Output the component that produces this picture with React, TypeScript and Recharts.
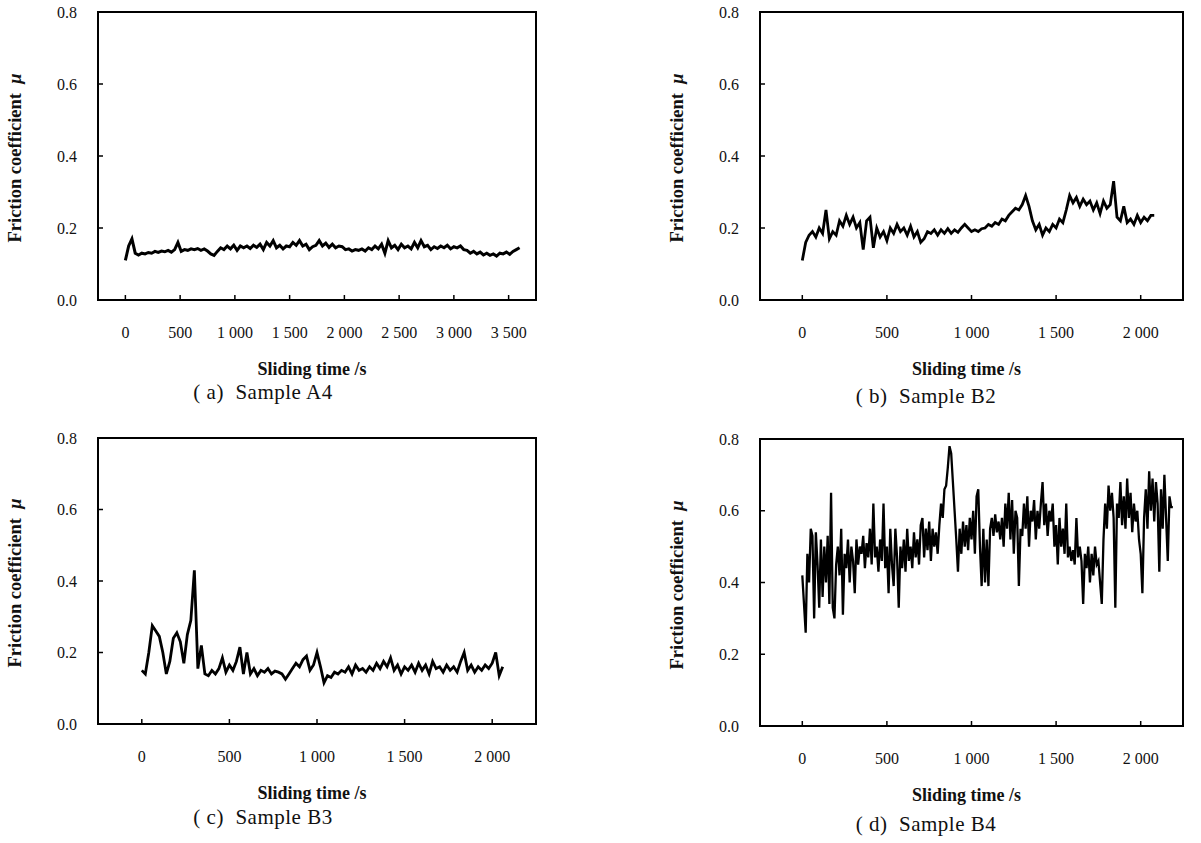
import React from 'react'
import { LineChart, Line, XAxis, YAxis, ReferenceArea } from 'recharts'

// Friction coefficient traces.
// Each trace is sampled at a fixed time step (s).
const TIME_STEP_A4 = 30
const MU_A4 = [
  0.11, 0.15, 0.17, 0.13, 0.125, 0.13, 0.128, 0.132, 0.13, 0.135, 0.132, 0.136, 0.134, 0.138, 0.133, 0.14,
  0.16, 0.135, 0.14, 0.138, 0.142, 0.14, 0.143, 0.138, 0.142, 0.136, 0.128, 0.124, 0.135, 0.145, 0.14, 0.15,
  0.142, 0.152, 0.138, 0.15, 0.145, 0.15, 0.143, 0.152, 0.146, 0.155, 0.14, 0.16, 0.15, 0.165, 0.145, 0.152,
  0.142, 0.15, 0.148, 0.16, 0.152, 0.165, 0.15, 0.155, 0.14, 0.148, 0.152, 0.165, 0.15, 0.158, 0.146, 0.155,
  0.145, 0.15, 0.148, 0.14, 0.142, 0.136, 0.14, 0.138, 0.142, 0.136, 0.145, 0.14, 0.15, 0.142, 0.155, 0.13,
  0.165, 0.145, 0.152, 0.14, 0.155, 0.145, 0.15, 0.142, 0.16, 0.145, 0.165, 0.148, 0.152, 0.14, 0.148, 0.143,
  0.15, 0.145, 0.152, 0.142, 0.148, 0.145, 0.15, 0.14, 0.138, 0.13, 0.135, 0.128, 0.133, 0.125, 0.13, 0.124,
  0.128, 0.122, 0.13, 0.128, 0.133, 0.127, 0.135, 0.14, 0.145,
]

const TIME_STEP_B2 = 20
const MU_B2 = [
  0.11, 0.16, 0.18, 0.19, 0.175, 0.2, 0.185, 0.25, 0.17, 0.19, 0.18, 0.22, 0.205, 0.235, 0.21, 0.23,
  0.2, 0.215, 0.14, 0.22, 0.23, 0.145, 0.2, 0.175, 0.19, 0.165, 0.2, 0.185, 0.21, 0.19, 0.2, 0.18,
  0.205, 0.175, 0.19, 0.16, 0.17, 0.19, 0.185, 0.195, 0.18, 0.195, 0.185, 0.198, 0.185, 0.195, 0.188, 0.2,
  0.21, 0.2, 0.19, 0.195, 0.19, 0.198, 0.2, 0.21, 0.205, 0.215, 0.21, 0.225, 0.22, 0.235, 0.245, 0.255,
  0.25, 0.265, 0.29, 0.26, 0.22, 0.195, 0.21, 0.18, 0.2, 0.19, 0.21, 0.2, 0.225, 0.215, 0.25, 0.29,
  0.27, 0.285, 0.26, 0.28, 0.265, 0.275, 0.25, 0.27, 0.24, 0.275, 0.255, 0.265, 0.33, 0.23, 0.22, 0.26,
  0.215, 0.225, 0.21, 0.235, 0.215, 0.23, 0.22, 0.235, 0.235,
]

const TIME_STEP_B3 = 20
const MU_B3 = [
  0.15, 0.14, 0.2, 0.275, 0.26, 0.245, 0.2, 0.14, 0.175, 0.24, 0.255, 0.23, 0.17, 0.25, 0.29, 0.43,
  0.155, 0.22, 0.14, 0.135, 0.15, 0.14, 0.155, 0.185, 0.145, 0.165, 0.15, 0.175, 0.215, 0.14, 0.2, 0.14,
  0.155, 0.135, 0.15, 0.145, 0.155, 0.14, 0.148, 0.145, 0.14, 0.125, 0.14, 0.155, 0.17, 0.16, 0.18, 0.19,
  0.15, 0.165, 0.2, 0.16, 0.115, 0.135, 0.13, 0.145, 0.14, 0.15, 0.145, 0.16, 0.14, 0.165, 0.15, 0.155,
  0.145, 0.16, 0.15, 0.17, 0.155, 0.175, 0.16, 0.185, 0.15, 0.165, 0.14, 0.16, 0.15, 0.165, 0.145, 0.17,
  0.15, 0.165, 0.14, 0.175, 0.155, 0.16, 0.145, 0.165, 0.15, 0.16, 0.145, 0.175, 0.2, 0.15, 0.165, 0.145,
  0.16, 0.15, 0.165, 0.155, 0.17, 0.2, 0.135, 0.16,
]

// B4 is very noisy, so it is read at a finer step (one row per 100 s)
const TIME_STEP_B4 = 10
const MU_B4 = [
  0.42, 0.34, 0.26, 0.48, 0.40, 0.55, 0.53, 0.30, 0.54, 0.45,
  0.33, 0.52, 0.36, 0.50, 0.40, 0.53, 0.34, 0.65, 0.33, 0.30,
  0.45, 0.50, 0.42, 0.55, 0.31, 0.48, 0.44, 0.52, 0.40, 0.50,
  0.46, 0.37, 0.52, 0.45, 0.50, 0.48, 0.53, 0.44, 0.51, 0.47,
  0.55, 0.45, 0.62, 0.47, 0.50, 0.43, 0.52, 0.46, 0.62, 0.44,
  0.50, 0.37, 0.55, 0.45, 0.39, 0.55, 0.47, 0.33, 0.50, 0.44,
  0.52, 0.43, 0.55, 0.46, 0.50, 0.44, 0.54, 0.47, 0.52, 0.45,
  0.56, 0.58, 0.47, 0.55, 0.49, 0.57, 0.46, 0.55, 0.50, 0.54,
  0.48, 0.56, 0.62, 0.58, 0.66, 0.67, 0.72, 0.78, 0.76, 0.68,
  0.60, 0.52, 0.43, 0.55, 0.48, 0.57, 0.50, 0.56, 0.49, 0.58,
  0.52, 0.60, 0.48, 0.64, 0.66, 0.50, 0.39, 0.55, 0.40, 0.52,
  0.39, 0.55, 0.58, 0.53, 0.59, 0.54, 0.57, 0.52, 0.58, 0.50,
  0.62, 0.55, 0.65, 0.52, 0.63, 0.48, 0.60, 0.58, 0.39, 0.55,
  0.53, 0.62, 0.55, 0.64, 0.50, 0.60, 0.57, 0.63, 0.52, 0.60,
  0.55, 0.62, 0.68, 0.56, 0.62, 0.53, 0.60, 0.57, 0.62, 0.50,
  0.56, 0.45, 0.58, 0.50, 0.55, 0.48, 0.62, 0.47, 0.50, 0.46,
  0.49, 0.45, 0.58, 0.47, 0.50, 0.46, 0.34, 0.48, 0.44, 0.50,
  0.40, 0.48, 0.42, 0.50, 0.45, 0.46, 0.40, 0.34, 0.52, 0.62,
  0.55, 0.67, 0.60, 0.65, 0.58, 0.33, 0.62, 0.58, 0.68, 0.56,
  0.64, 0.55, 0.69, 0.58, 0.65, 0.54, 0.62, 0.57, 0.60, 0.52,
  0.48, 0.37, 0.58, 0.66, 0.55, 0.71, 0.60, 0.69, 0.57, 0.68,
  0.62, 0.43, 0.66, 0.55, 0.70, 0.58, 0.46, 0.64, 0.61, 0.61,
]

const X_TICKS_LONG = [0, 500, 1000, 1500, 2000, 2500, 3000, 3500]
const X_TICKS_SHORT = [0, 500, 1000, 1500, 2000]
const Y_TICKS = [0, 0.2, 0.4, 0.6, 0.8]

const SERIF = '"Liberation Serif", "Times New Roman", serif'
const X_AXIS_H = 40
const Y_AXIS_W = 50

type Box = { l: number; r: number; t: number; b: number }

interface PanelDef {
  id: string
  caption: string
  step: number
  values: number[]
  xMax: number
  xTicks: number[]
  left: number
  top: number
  width: number
  height: number
  box: Box
  strokeWidth: number
  captionX: number
  captionDy: number
}

const PANELS: PanelDef[] = [
  { id: 'a', caption: '( a)  Sample A4', step: TIME_STEP_A4, values: MU_A4, xMax: 3750, xTicks: X_TICKS_LONG,
    left: 0, top: 0, width: 560, height: 420, box: { l: 98, r: 536, t: 12, b: 300 },
    strokeWidth: 3, captionX: 263, captionDy: 92 },
  { id: 'b', caption: '( b)  Sample B2', step: TIME_STEP_B2, values: MU_B2, xMax: 2250, xTicks: X_TICKS_SHORT,
    left: 600, top: 0, width: 601, height: 420, box: { l: 160, r: 583, t: 12, b: 300 },
    strokeWidth: 2.8, captionX: 326, captionDy: 96 },
  { id: 'c', caption: '( c)  Sample B3', step: TIME_STEP_B3, values: MU_B3, xMax: 2250, xTicks: X_TICKS_SHORT,
    left: 0, top: 420, width: 560, height: 423, box: { l: 98, r: 536, t: 18, b: 304 },
    strokeWidth: 2.8, captionX: 263, captionDy: 93 },
  { id: 'd', caption: '( d)  Sample B4', step: TIME_STEP_B4, values: MU_B4, xMax: 2250, xTicks: X_TICKS_SHORT,
    left: 600, top: 420, width: 601, height: 423, box: { l: 160, r: 583, t: 19, b: 306 },
    strokeWidth: 2.3, captionX: 326, captionDy: 98 },
]

// 1000 -> "1 000", the way the figure groups thousands
function fmtTime(v: number): string {
  if (v < 1000) return String(v)
  return `${Math.floor(v / 1000)} ${String(v % 1000).padStart(3, '0')}`
}

// ticks point into the plot, labels sit well away from the axis
function renderXTick(props: any) {
  const { x, y, payload } = props
  return (
    <g key={`xt-${payload.value}`}>
      <line x1={x} x2={x} y1={y} y2={y - 5} stroke="#000" strokeWidth={1.5} />
      <text x={x} y={y + 38} textAnchor="middle" fontFamily={SERIF} fontSize={16} fill="#111">
        {fmtTime(payload.value)}
      </text>
    </g>
  )
}

function renderYTick(props: any) {
  const { x, y, payload } = props
  return (
    <g key={`yt-${payload.value}`}>
      <line x1={x} x2={x + 5} y1={y} y2={y} stroke="#000" strokeWidth={1.5} />
      <text x={x - 21} y={y + 5.5} textAnchor="end" fontFamily={SERIF} fontSize={16} fill="#111">
        {Number(payload.value).toFixed(1)}
      </text>
    </g>
  )
}

function FrictionPanel({ p }: { p: PanelDef }) {
  const rows = p.values.map((mu, i) => ({ t: i * p.step, mu }))
  const { box } = p
  const midX = (box.l + box.r) / 2
  const midY = (box.t + box.b) / 2

  return (
    <div style={{ position: 'absolute', left: p.left, top: p.top, width: p.width, height: p.height }}>
      <LineChart
        width={p.width}
        height={p.height}
        data={rows}
        margin={{
          top: box.t,
          left: box.l - Y_AXIS_W,
          right: p.width - box.r,
          bottom: p.height - box.b - X_AXIS_H,
        }}
      >
        <XAxis
          dataKey="t"
          type="number"
          domain={[-250, p.xMax]}
          ticks={p.xTicks}
          interval={0}
          allowDataOverflow
          height={X_AXIS_H}
          axisLine={false}
          tickLine={false}
          tickSize={0}
          tickMargin={0}
          tick={renderXTick}
        />
        <YAxis
          type="number"
          domain={[0, 0.8]}
          ticks={Y_TICKS}
          interval={0}
          width={Y_AXIS_W}
          axisLine={false}
          tickLine={false}
          tickSize={0}
          tickMargin={0}
          tick={renderYTick}
        />
        <ReferenceArea x1={-250} x2={p.xMax} y1={0} y2={0.8} fill="none" stroke="#000" strokeWidth={2} />
        <Line
          type="linear"
          dataKey="mu"
          stroke="#000"
          strokeWidth={p.strokeWidth}
          dot={false}
          isAnimationActive={false}
        />
      </LineChart>

      {/* axis titles and caption */}
      <div
        style={{
          position: 'absolute', left: box.l - 83, top: midY + 2, transform: 'translate(-50%, -50%) rotate(-90deg)',
          whiteSpace: 'nowrap', fontFamily: SERIF, fontWeight: 700, fontSize: 18.5, color: '#111',
        }}
      >
        Friction coefficient&nbsp;&nbsp;<i>μ</i>
      </div>
      <div
        style={{
          position: 'absolute', left: midX - 5, top: box.b + 69, transform: 'translate(-50%, -50%)',
          whiteSpace: 'nowrap', fontFamily: SERIF, fontWeight: 700, fontSize: 18, color: '#111',
        }}
      >
        Sliding time /s
      </div>
      <div
        style={{
          position: 'absolute', left: p.captionX, top: box.b + p.captionDy, transform: 'translate(-50%, -50%)',
          whiteSpace: 'pre', fontFamily: SERIF, fontSize: 21, letterSpacing: 0.5, color: '#111',
        }}
      >
        {p.caption}
      </div>
    </div>
  )
}

export default function App() {
  return (
    <div style={{ position: 'absolute', left: 0, top: 0, width: 1201, height: 843, background: '#fff' }}>
      {PANELS.map((p) => (
        <FrictionPanel key={p.id} p={p} />
      ))}
    </div>
  )
}
